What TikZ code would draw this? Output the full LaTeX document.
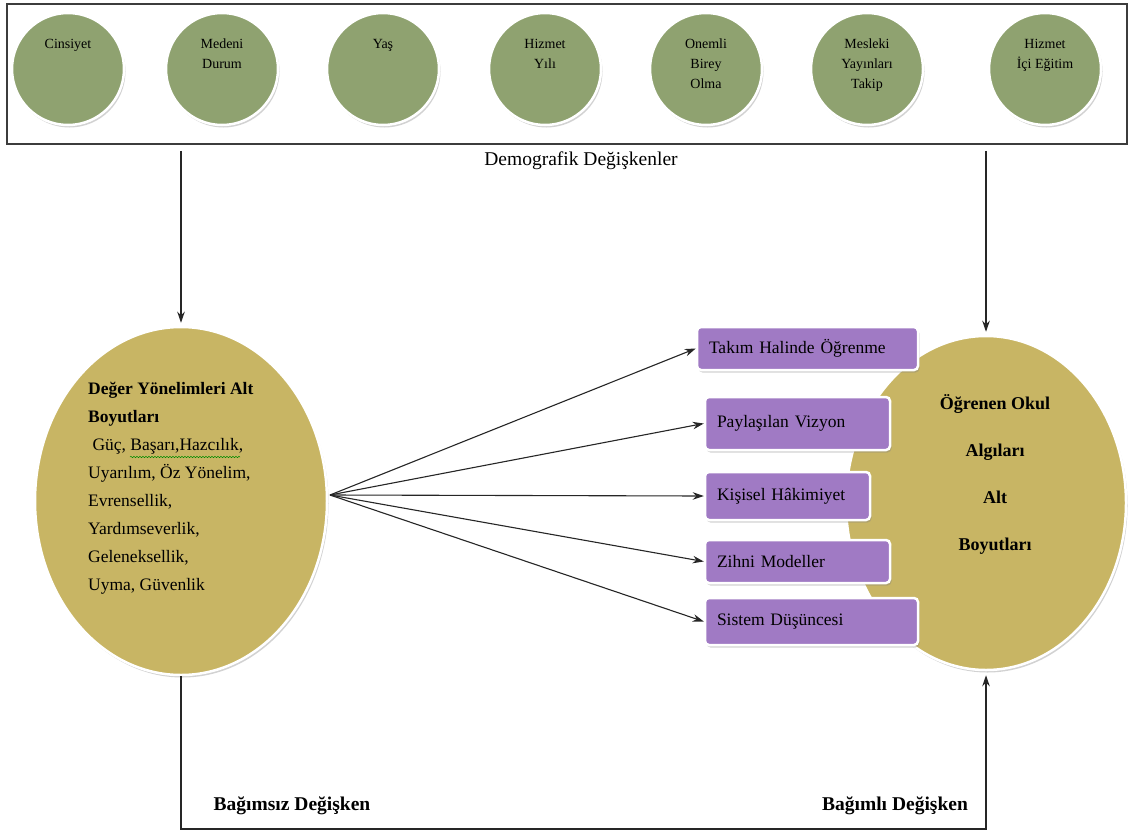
\documentclass[tikz,border=0pt]{standalone}
\usepackage{fontspec}
\setmainfont{Liberation Serif}
\usetikzlibrary{shapes.geometric,shadows,arrows.meta,decorations.pathmorphing}

\definecolor{sage}{RGB}{143,162,112}
\definecolor{ochre}{RGB}{200,181,100}
\definecolor{lilac}{RGB}{160,122,196}
\definecolor{frame}{RGB}{60,60,60}

\begin{document}
\begin{tikzpicture}[x=1pt,y=-1pt,
  softshadow/.style={drop shadow={opacity=0.35, shadow xshift=1.5pt, shadow yshift=-2.5pt}},
  demog/.style={circle, minimum size=112pt, inner sep=0pt, fill=sage,
    draw=white, line width=2.5pt, softshadow},
  demogtext/.style={anchor=north, align=center, inner sep=0pt,
    font=\fontsize{14}{20}\selectfont},
  big/.style={ellipse, inner sep=0pt, fill=ochre, draw=white, line width=2.5pt, softshadow},
  dim/.style={rectangle, rounded corners=4pt, fill=lilac, draw=white, line width=2.5pt,
    softshadow, inner xsep=12pt, inner ysep=0pt, align=left,
    font=\fontsize{17.5}{20}\selectfont},
  arr/.style={-{Stealth[length=11pt,width=7.5pt]}, line width=1.1pt, black!85},
  lbl/.style={inner sep=0pt, font=\fontsize{19.5}{22}\selectfont\bfseries}
]
\fill[white] (0,0) rectangle (1134,835);
\useasboundingbox (0,0) rectangle (1134,835);

% demographic variables
\node[draw=frame, line width=1.5pt, minimum width=1120pt, minimum height=140pt, inner sep=0pt]
  (demo) at (567,74) {};
\foreach \n/\x/\t in {c1/68/Cinsiyet, c2/222/Medeni\\Durum, c3/383/Yaş,
    c4/545/Hizmet\\Yılı, c5/706/Onemli\\Birey\\Olma, c6/867/Mesleki\\Yayınları\\Takip,
    c7/1045/Hizmet\\İçi Eğitim} {
  \node[demog] (\n) at (\x,69) {};
  \node[demogtext] (\n t) at (\x,39) {\t};
}
\node[inner sep=0pt, font=\fontsize{19.5}{22}\selectfont] (demolbl) at (581,161) {Demografik Değişkenler};

% independent and dependent variables
\node[big, minimum width=280pt, minimum height=334pt] (R) at (986,503) {};
\node[big, minimum width=292pt, minimum height=348pt] (L) at (181,501) {};

\node[anchor=north west, align=left, inner sep=0pt, font=\fontsize{17.5}{28}\selectfont] (Lt) at (88,382)
  {\textbf{Değer Yönelimleri Alt}\\\textbf{Boyutları}\\\ Güç, Başarı,Hazcılık,\\Uyarılım, Öz Yönelim,\\Evrensellik,\\Yardımseverlik,\\Geleneksellik,\\Uyma, Güvenlik};
\draw[green!55!black, line width=0.5pt, decorate,
  decoration={snake, amplitude=0.7pt, segment length=3pt}] (130,457) -- (240,457);

\node[align=center, inner sep=0pt, font=\fontsize{18}{47}\selectfont\bfseries] (Rt) at (995,474)
  {Öğrenen Okul\\Algıları\\Alt\\Boyutları};

% learning organisation dimensions
\node[dim, minimum height=43pt, text width=197pt] (b1) at (807.5,348.5) {Takım Halinde Öğrenme};
\node[dim, minimum height=53pt, text width=161pt] (b2) at (797.5,423.5) {Paylaşılan Vizyon};
\node[dim, minimum height=48pt, text width=141pt] (b3) at (787.5,496) {Kişisel Hâkimiyet};
\node[dim, minimum height=43pt, text width=161pt] (b4) at (797.5,561.5) {Zihni Modeller};
\node[dim, minimum height=47pt, text width=189pt] (b5) at (811.5,621.5) {Sistem Düşüncesi};

% connectors
\coordinate (fan) at (330,495);
\foreach \b in {b1,b2,b3,b4,b5} \draw[arr] (fan) -- (\b.west);

\coordinate (s1) at (L.north |- demo.south);
\coordinate (s2) at (R.north |- demo.south);
\draw[arr] ([yshift=-6pt]s1) -- ([yshift=3pt]L.north);
\draw[arr] ([yshift=-6pt]s2) -- ([yshift=3pt]R.north);

\coordinate (base) at (0,829);
\draw[arr] (L.south) -- (L.south |- base) -- (R.south |- base) -- ([yshift=-4pt]R.south);

\node[lbl] (iv) at (292,806) {Bağımsız Değişken};
\node[lbl] (dv) at (895,806) {Bağımlı Değişken};
\end{tikzpicture}
\end{document}
